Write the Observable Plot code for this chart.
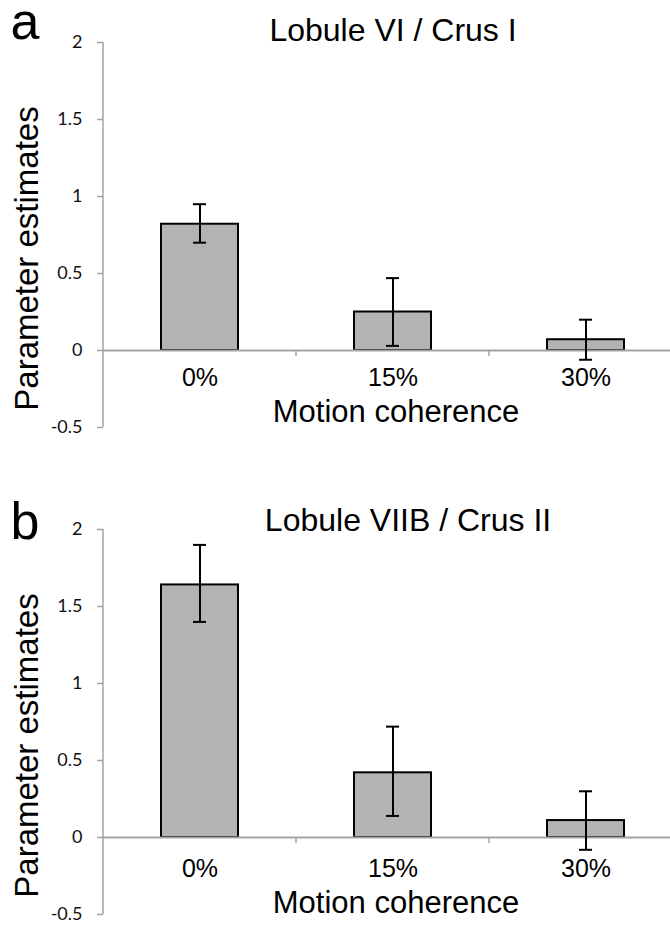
<!DOCTYPE html>
<html><head><meta charset="utf-8">
<script src="https://cdn.jsdelivr.net/npm/d3@7"></script>
<script src="https://cdn.jsdelivr.net/npm/@observablehq/plot@0.6"></script>
<style>
body{margin:0;background:#fff}
#chart{width:670px;height:928px;position:relative;overflow:hidden}
svg{display:block;overflow:visible}
</style>
</head><body><div id="chart"></div>
<script>
const categories = ["0%", "15%", "30%"];
const yTicks = [-0.5, 0, 0.5, 1, 1.5, 2];
const panelLetters = ["a", "b"];
const panelTitles = ["Lobule VI / Crus I", "Lobule VIIB / Crus II"];
const xLabel = "Motion coherence";
const yLabel = "Parameter estimates";
const meanA = [0.82, 0.25, 0.07];
const lowA  = [0.70, 0.03, -0.06];
const highA = [0.95, 0.47, 0.20];
const meanB = [1.64, 0.42, 0.11];
const lowB  = [1.40, 0.14, -0.08];
const highB = [1.90, 0.72, 0.30];

const AXIS = "#a3a3a3";
const BAR = "#b3b3b3";
const ARIAL = "Liberation Sans, Arial, sans-serif";
const TICKF = "Lato, Carlito, sans-serif";

function panel(mean, low, high, letter, title, L) {
  const data = categories.map((c, i) => ({cat: c, v: mean[i], lo: low[i], hi: high[i]}));
  const lines = (index, scales, values, dims) => {
    const g = d3.create("svg:g");
    const x0 = dims.marginLeft;
    g.append("line").attr("x1", x0).attr("x2", x0)
      .attr("y1", scales.y(yTicks[yTicks.length - 1])).attr("y2", scales.y(yTicks[0]))
      .attr("stroke", AXIS).attr("stroke-width", 1.5);
    const y0 = scales.y(0);
    for (const c of categories.slice(1)) {
      const xx = scales.x(c);
      g.append("line").attr("x1", xx).attr("x2", xx).attr("y1", y0).attr("y2", y0 + 6)
        .attr("stroke", AXIS).attr("stroke-width", 1.5);
    }
    return g.node();
  };
  return Plot.plot({
    width: 670,
    height: L.height,
    marginLeft: 103,
    marginRight: 0,
    marginTop: 42,
    marginBottom: L.height - 427,
    style: {background: "transparent"},
    x: {domain: categories, range: [103, 682], padding: 0, axis: null},
    y: {domain: [-0.5, 2], axis: null},
    marks: [
      Plot.axisY({ticks: yTicks, tickFormat: d => String(d), tickSize: 6, tickPadding: 15,
        stroke: AXIS, strokeWidth: 1.5, fill: "#111", fontSize: 18, fontFamily: TICKF, label: null}),
      Plot.barY(data, {x: "cat", y: "v", fill: BAR, stroke: "#000", strokeWidth: 2,
        insetLeft: 58, insetRight: 58}),
      Plot.ruleY([0], {stroke: AXIS, strokeWidth: 2}),
      lines,
      Plot.ruleX(data, {x: "cat", y1: "lo", y2: "hi", stroke: "#000", strokeWidth: 2}),
      Plot.tickY(data, {x: "cat", y: "lo", stroke: "#000", strokeWidth: 2, insetLeft: 90, insetRight: 90}),
      Plot.tickY(data, {x: "cat", y: "hi", stroke: "#000", strokeWidth: 2, insetLeft: 90, insetRight: 90}),
      Plot.text(categories, {x: d => d, y: 0, dy: L.catDy, fontSize: 25, fontFamily: ARIAL,
        fill: "#000", lineAnchor: "middle", textAnchor: "middle"}),
      Plot.text([xLabel], {x: () => categories[1], y: 0, dy: L.xlabDy, dx: 3, fontSize: 31, fontFamily: ARIAL,
        fill: "#000", lineAnchor: "middle", textAnchor: "middle"}),
      Plot.text([yLabel], {frameAnchor: "left", y: 0, dy: -92, dx: -76, rotate: -90, fontSize: 33,
        fontFamily: ARIAL, fill: "#000", lineAnchor: "middle", textAnchor: "middle"}),
      Plot.text([title], {x: () => categories[1], frameAnchor: "top", dy: L.titleDy, dx: L.titleDx, fontSize: 32,
        fontFamily: ARIAL, fill: "#000", lineAnchor: "middle", textAnchor: "middle"}),
      Plot.text([letter], {frameAnchor: "top-left", dx: -93, dy: L.letterDy, fontSize: 52,
        fontFamily: ARIAL, fill: "#000", lineAnchor: "middle", textAnchor: "start"})
    ]
  });
}

const chart = document.getElementById("chart");
chart.append(panel(meanA, lowA, highA, panelLetters[0], panelTitles[0],
  {height: 487, catDy: 27, xlabDy: 62, titleDy: -12, titleDx: 0, letterDy: -20}));
chart.append(panel(meanB, lowB, highB, panelLetters[1], panelTitles[1],
  {height: 441, catDy: 31, xlabDy: 66, titleDy: -9, titleDx: 15, letterDy: -7}));
</script>
</body></html>
